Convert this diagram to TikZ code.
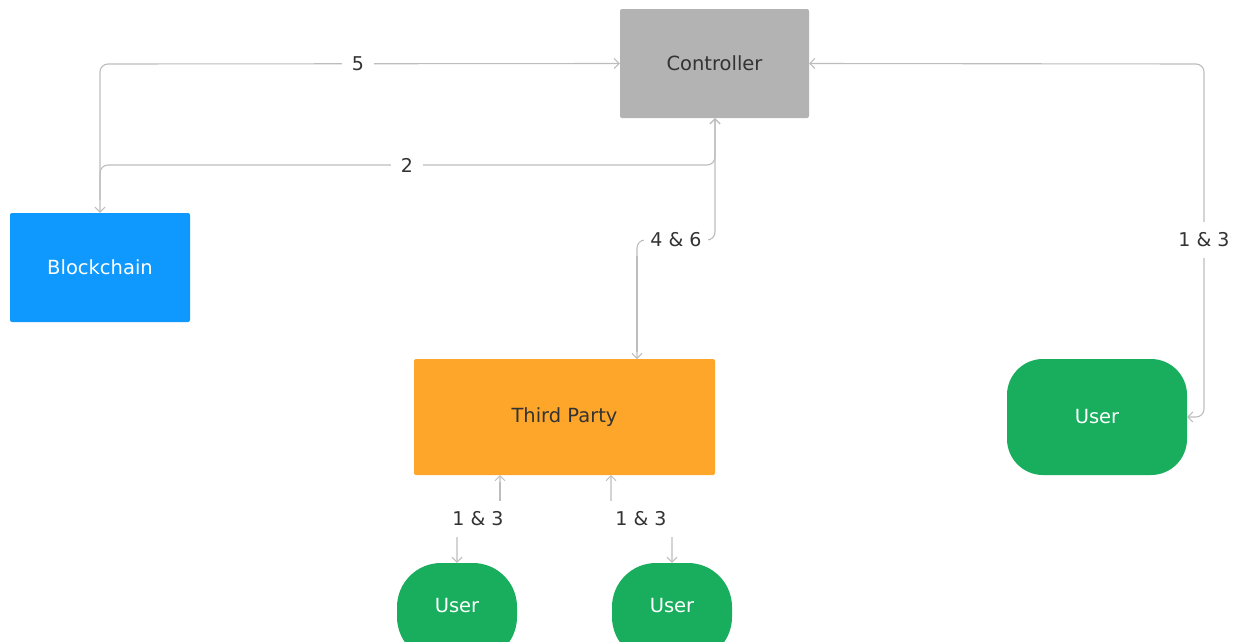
\documentclass[tikz,border=0pt]{standalone}
\usepackage{fontspec}
\setmainfont{DejaVu Sans}
\usetikzlibrary{arrows.meta}
\definecolor{ctrlgray}{HTML}{B3B3B3}
\definecolor{bcblue}{HTML}{0F99FF}
\definecolor{tporange}{HTML}{FEA62A}
\definecolor{usergreen}{HTML}{18AE5E}
\definecolor{linegray}{HTML}{BDBDBD}
\definecolor{txtdark}{HTML}{333333}
\tikzset{
  box/.style={rectangle, rounded corners=2pt, draw=none, font=\fontsize{19.5}{22}\selectfont, inner sep=0pt},
  userbox/.style={rectangle, rounded corners=36pt, fill=usergreen, text=white, font=\fontsize{19.5}{22}\selectfont, inner sep=0pt},
  conn/.style={draw=linegray, line width=1.1pt, rounded corners=8pt, arrows={Straight Barb[length=5pt,width=10pt,line width=1pt]-Straight Barb[length=5pt,width=10pt,line width=1pt]}},
  conne/.style={draw=linegray, line width=1.1pt, rounded corners=8pt},
  lbl/.style={fill=white, text=txtdark, font=\fontsize{19}{21}\selectfont, inner xsep=10pt, inner ysep=7pt}
}
\begin{document}
\begin{tikzpicture}[x=1pt,y=-1pt]
\useasboundingbox (0,0) rectangle (1234,641);
\clip (0,0) rectangle (1234,641);
\fill[white] (0,0) rectangle (1234,641);

\node[box, fill=ctrlgray, text=txtdark, minimum width=189pt, minimum height=109pt] (ctrl) at (714.5,63.5) {Controller};
\node[box, fill=bcblue, text=white, minimum width=180pt, minimum height=109pt] (bc) at (100,267.5) {Blockchain};
\node[box, fill=tporange, text=txtdark, minimum width=301pt, minimum height=116pt] (tp) at (564.5,417) {Third Party};
\node[userbox, minimum width=180pt, minimum height=116pt] (u1) at (1097,417) {User};
\node[userbox, rounded corners=44pt, minimum width=120pt, minimum height=98pt] (u2) at (457,612) {\raisebox{13pt}{User}};
\node[userbox, rounded corners=44pt, minimum width=120pt, minimum height=98pt] (u3) at (672,612) {\raisebox{13pt}{User}};

% 5
\draw[conn] (bc.north) -- (100,64) -- (ctrl.west);
\node[lbl] (l5) at (358,64) {5};
% 2
\draw[conne, -{Straight Barb[length=5pt,width=10pt,line width=1pt]}] (100,200) -- (100,165) -- (715,165) -- (ctrl.south -| 715,0);
\node[lbl] (l2) at (407,165) {2};
% 4 & 6
\coordinate (tpin) at (637,359);
\draw[conn] (ctrl.south -| 715,0) -- (715,240) -- (637,240) -- (tpin);
\draw[conne, line width=1.6pt] (637,256) -- (637,352);
\node[lbl, inner xsep=6pt] (l46) at (676,240) {4 \& 6};
% right user
\draw[conn] (ctrl.east) -- (1204,64) -- (1204,417) -- (u1.east);
\node[lbl, inner xsep=4pt, inner ysep=11pt] (l13a) at (1204,240) {1 \& 3};
% bottom left
\coordinate (tpl) at (500,475);
\draw[conn] (tpl) -- (500,519) -- (457,519) -- (u2.north);
\draw[conne, line width=1.6pt] (500,482) -- (500,503);
\node[lbl, inner xsep=6pt, inner ysep=11pt] (l13b) at (478,519) {1 \& 3};
% bottom right
\coordinate (tpr) at (611,475);
\draw[conn] (tpr) -- (611,519) -- (672,519) -- (u3.north);
\node[lbl, inner xsep=13pt, inner ysep=11pt] (l13c) at (641,519) {1 \& 3};
\end{tikzpicture}
\end{document}
